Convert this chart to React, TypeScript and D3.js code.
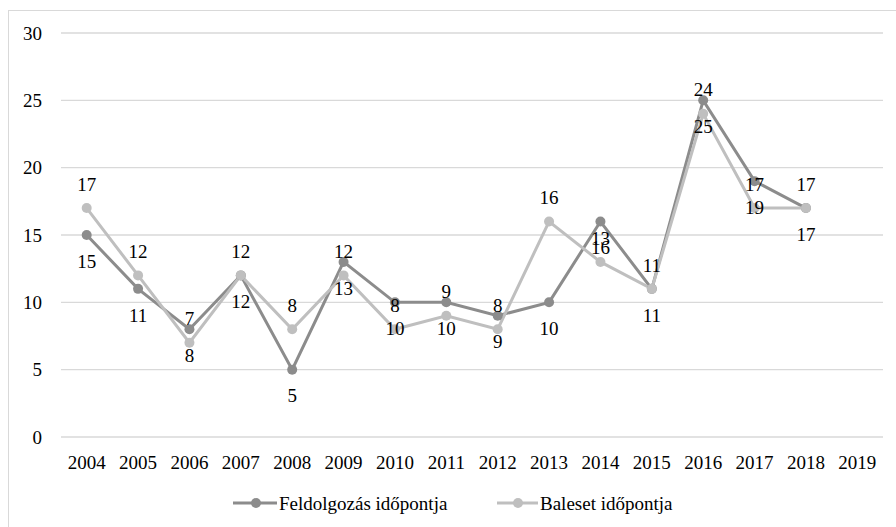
import React from "react";
import * as d3 from "d3";

const years = ["2004","2005","2006","2007","2008","2009","2010","2011","2012","2013","2014","2015","2016","2017","2018","2019"];
const feldolgozas = [15, 11, 8, 12, 5, 13, 10, 10, 9, 10, 16, 11, 25, 19, 17];
const baleset = [17, 12, 7, 12, 8, 12, 8, 9, 8, 16, 13, 11, 24, 17, 17];
const yTicks = [0, 5, 10, 15, 20, 25, 30];
const seriesNames = ["Feldolgozás időpontja", "Baleset időpontja"];

const W = 896, H = 527;
const left = 61, right = 883, top = 33, bottom = 437;
const DARK = "#8c8c8c", LIGHT = "#bfbfbf";
const FONT = "'Times New Roman', Times, 'Liberation Serif', 'DejaVu Serif', serif";

function T(props: any) {
  return <text style={{ fontFamily: FONT }} fontSize={19} fill="#000" dy="0.35em" {...props} />;
}

export default function App() {
  const x = d3.scaleBand<string>().domain(years).range([left, right]);
  const cx = (i: number) => (x(years[i]) as number) + x.bandwidth() / 2;
  const y = d3.scaleLinear().domain([0, 30]).range([bottom, top]);
  const line = d3.line<number>().x((_, i) => cx(i)).y((d) => y(d));

  return (
    <svg width={W} height={H} style={{ position: "absolute", left: 0, top: 0 }}>
      <rect x={0} y={0} width={W} height={H} fill="#fff" />
      <rect x={8.5} y={10.5} width={W + 20} height={H + 20} fill="none" stroke="#d9d9d9" strokeWidth={1} />
      {yTicks.map((t) => (
        <g key={t}>
          <line x1={left} x2={right} y1={y(t)} y2={y(t)} stroke="#d9d9d9" strokeWidth={1.3} />
          <T x={42} y={y(t)} textAnchor="end">{t}</T>
        </g>
      ))}
      {years.map((yr, i) => (
        <T key={yr} x={cx(i)} y={462} textAnchor="middle">{yr}</T>
      ))}
      <path d={line(feldolgozas) || ""} fill="none" stroke={DARK} strokeWidth={3} />
      <path d={line(baleset) || ""} fill="none" stroke={LIGHT} strokeWidth={3} />
      {feldolgozas.map((v, i) => (
        <circle key={"f" + i} cx={cx(i)} cy={y(v)} r={5} fill={DARK} />
      ))}
      {baleset.map((v, i) => (
        <circle key={"b" + i} cx={cx(i)} cy={y(v)} r={5} fill={LIGHT} />
      ))}
      {baleset.map((v, i) => (
        <T key={"bl" + i} x={cx(i)} y={y(v) - 24} textAnchor="middle">{v}</T>
      ))}
      {feldolgozas.map((v, i) => (
        <T key={"fl" + i} x={cx(i)} y={y(v) + 26} textAnchor="middle">{v}</T>
      ))}
      <g>
        <line x1={233} x2={277} y1={503} y2={503} stroke={DARK} strokeWidth={3} />
        <circle cx={256} cy={503} r={5} fill={DARK} />
        <T x={279} y={503}>{seriesNames[0]}</T>
        <line x1={497} x2={538} y1={503} y2={503} stroke={LIGHT} strokeWidth={3} />
        <circle cx={518} cy={503} r={5} fill={LIGHT} />
        <T x={540} y={503}>{seriesNames[1]}</T>
      </g>
    </svg>
  );
}
